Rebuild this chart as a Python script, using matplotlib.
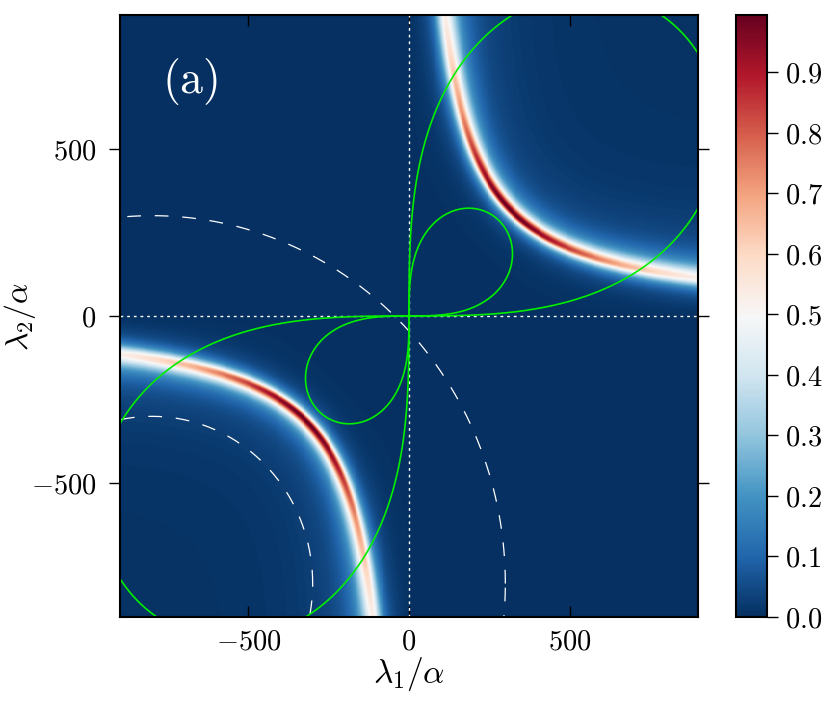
import numpy as np
import matplotlib
matplotlib.use("Agg")
import matplotlib.pyplot as plt
from matplotlib.ticker import FuncFormatter, FixedLocator

plt.rcParams['mathtext.fontset'] = 'cm'
plt.rcParams['font.family'] = ['DejaVu Serif']

# ---- data / model parameters ----
axis_limits = [-900, 900]
axis_ticks = [-500, 0, 500]
cbar_ticks = [0.0, 0.1, 0.2, 0.3, 0.4, 0.5, 0.6, 0.7, 0.8, 0.9]
ridge_product = 1.0e5          # lambda1*lambda2 along the resonance ridge
ridge_halfwidth = 15.0         # half width at the ridge centre (diagonal)
ridge_width_growth = 0.7       # width grows as (r/r0)**growth
ridge_peak_power = 0.45        # peak height ~ sin(2 theta)**power
outer_width_factor = 1.3       # ridge is a bit broader on its outer side
lemniscate_sizes = [400, 1200] # (x^2+y^2)^2 = 2 a^2 x y
circle_center = [-800, -800]
circle_radii = [500, 1100]
panel_label = r'$\mathrm{(a)}$'

# ---- field ----
grid = np.linspace(axis_limits[0], axis_limits[1], 601)
X, Y = np.meshgrid(grid, grid)
R = np.hypot(X, Y) + 1e-9
r0 = np.sqrt(2 * ridge_product)
D = (X * Y - ridge_product) / R
S = np.clip(2 * X * Y / R ** 2, 0, 1)
peak = 0.995 * S ** ridge_peak_power
w = ridge_halfwidth * (R / r0) ** ridge_width_growth
w = np.where(D > 0, outer_width_factor * w, w)
Z = peak / (1.0 + (D / w) ** 2)

fig = plt.figure(figsize=(8.3, 7.08), dpi=100)
ax = fig.add_axes([120 / 830, 1 - 617 / 708, 578 / 830, 602 / 708])
cax = fig.add_axes([736 / 830, 1 - 617 / 708, 31 / 830, 602 / 708])

im = ax.pcolormesh(X, Y, Z, cmap='RdBu_r', vmin=0, vmax=Z.max(), shading='auto',
                   rasterized=True)

# dotted axes lines
ax.axvline(0, color='white', lw=1.0, ls=(0, (2, 2.8)))
ax.axhline(0, color='white', lw=1.0, ls=(0, (2, 2.8)))

# dashed circles
t = np.linspace(0, 2 * np.pi, 800)
for rad in circle_radii:
    ax.plot(circle_center[0] + rad * np.cos(t), circle_center[1] + rad * np.sin(t),
            color='white', lw=0.9, ls=(0, (11, 11)))

# lemniscates
for a in lemniscate_sizes:
    for th0 in (0.0, np.pi):
        th = np.linspace(th0, th0 + np.pi / 2, 1500)
        rr = a * np.sqrt(np.clip(np.sin(2 * th), 0, None))
        ax.plot(rr * np.cos(th), rr * np.sin(th), color='#00ee00', lw=1.2)

ax.set_xlim(axis_limits)
ax.set_ylim(axis_limits)
ax.xaxis.set_major_locator(FixedLocator(axis_ticks))
ax.yaxis.set_major_locator(FixedLocator(axis_ticks))
fmt = FuncFormatter(lambda v, p: r'$%d$' % v)
ax.xaxis.set_major_formatter(fmt)
ax.yaxis.set_major_formatter(fmt)
ax.tick_params(axis='x', direction='in', top=True, bottom=True, length=8, width=1,
               labelsize=20.5, pad=8)
ax.tick_params(axis='y', direction='out', left=True, right=True, length=8, width=1,
               labelsize=20.5, pad=9)
for s in ax.spines.values():
    s.set_linewidth(1.5)
ax.set_xlabel(r'$\lambda_1/\alpha$', fontsize=24, labelpad=0)
ax.set_ylabel(r'$\lambda_2/\alpha$', fontsize=23)
ax.yaxis.set_label_coords(-0.142, 0.5)

ax.text(-770, 700, panel_label, color='white', fontsize=33, ha='left', va='center')

cb = fig.colorbar(im, cax=cax)
cb.set_ticks(cbar_ticks)
cb.ax.yaxis.set_major_formatter(FuncFormatter(lambda v, p: r'$%.1f$' % v))
cb.ax.tick_params(labelsize=20.5, length=8, width=1, direction='out', pad=5)
cb.outline.set_linewidth(1.5)

fig.savefig('out.png', dpi=100)
